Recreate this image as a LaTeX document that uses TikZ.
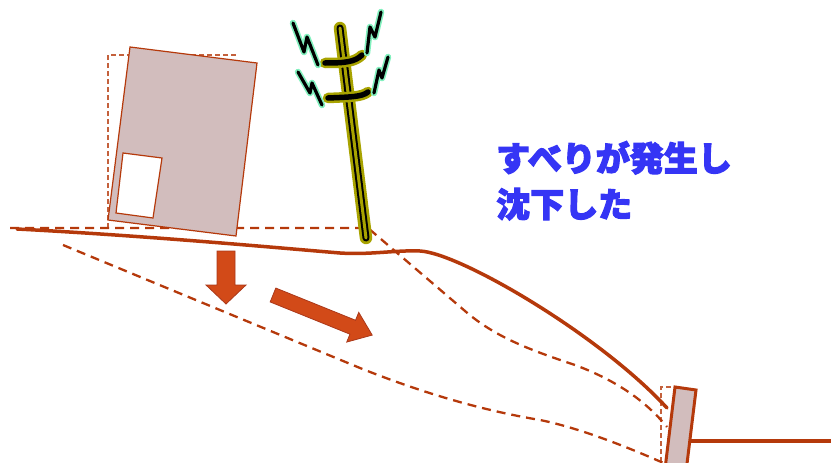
\documentclass[tikz,border=0pt]{standalone}
\usepackage{fontspec}
\newfontfamily\jpfont{Noto Sans CJK JP}[BoldFeatures={FakeBold=3.5}]
\definecolor{soil}{RGB}{181,57,11}
\definecolor{wallfill}{RGB}{210,189,189}
\definecolor{arrowfill}{RGB}{210,74,24}
\definecolor{arrowedge}{RGB}{170,56,26}
\definecolor{poleolive}{RGB}{168,163,0}
\definecolor{sparkglow}{RGB}{130,240,190}
\definecolor{msgblue}{RGB}{53,53,245}
\tikzset{
  slipline/.style={draw=soil, line width=2.3pt, dash pattern=on 9pt off 6pt},
  oldoutline/.style={draw=soil, opacity=0.8, line width=1.2pt, dash pattern=on 5pt off 3pt},
  groundline/.style={draw=soil, line width=3.5pt, line cap=round},
  movearrow/.style={fill=arrowfill, draw=arrowedge, line width=0.8pt, line join=miter},
  housebody/.style={fill=wallfill, draw=soil, line width=1.2pt},
  windowpane/.style={fill=white, draw=soil, line width=1.2pt},
  retainwall/.style={fill=wallfill, draw=soil, line width=3pt},
  polehalo/.style={draw=poleolive, line cap=round, line join=round},
  sparkhalo/.style={draw=sparkglow, line width=6.5pt, line cap=round, line join=round},
  sparkcore/.style={draw=black, line width=3.2pt, line cap=round, line join=round},
  message/.style={text=msgblue, font=\jpfont\bfseries\fontsize{34}{46}\selectfont, align=left, inner sep=0pt}
}
\begin{document}
\begin{tikzpicture}[x=1pt, y=-1pt]
\useasboundingbox (0,0) rectangle (831,463);

% former ground surface and the slip surface
\draw[slipline] (10,228) -- (368,228) -- (465,311)
  .. controls (495,337) and (530,350) .. (575,365)
  .. controls (615,380) and (645,400) .. (667,427);
\draw[slipline] (63,245) -- (360,368)
  .. controls (420,392) and (480,410) .. (540,420)
  .. controls (580,428) and (630,448) .. (668,465);

% present ground surface
\draw[groundline] (17,229) .. controls (150,236) and (280,248) .. (340,253)
  .. controls (370,255) and (395,250) .. (420,251)
  .. controls (460,253) and (600,335) .. (667,408);
\draw[groundline, line cap=butt] (688,441) -- (831,441);

% movement arrows
\draw[movearrow] (217,251) -- (235,251) -- (235,285) -- (246,285) -- (226,304)
  -- (206,285) -- (217,285) -- cycle;
\begin{scope}[shift={(273,295)}, rotate=-22]
  \draw[movearrow] (0,-7.5) -- (86,-7.5) -- (86,-16) -- (107,0) -- (86,16)
    -- (86,7.5) -- (0,7.5) -- cycle;
\end{scope}

% house, original position and tilted
\draw[oldoutline] (108,228) -- (108,55) -- (237,55);
\draw[housebody] (130,47) -- (257,63) -- (236,236) -- (108,220) -- cycle;
\draw[windowpane] (123,153) -- (162,158) -- (153,218) -- (116,213) -- cycle;

% telegraph pole
\draw[polehalo, line width=12.5pt] (340,28) -- (366,238);
\draw[black, line width=7pt, line cap=round] (340,28) -- (366,238);
\draw[poleolive, line width=3pt, line cap=round] (340,28) -- (366,238);
\foreach \arm in {{(325,63) .. controls (345,63) and (355,62) .. (362,55)},
                  {(328,98) .. controls (350,97) and (362,97) .. (368,92)}}{
  \draw[polehalo, line width=10.5pt] \arm;
  \draw[black, line width=5.5pt, line cap=round] \arm;
}

% sparks from the wires
\foreach \zig in {{(293,23) -- (304,52) -- (307,37) -- (318,65)},
                  {(298,72) -- (310,93) -- (312,83) -- (322,105)},
                  {(381,12) -- (375,37) -- (370,27) -- (367,53)},
                  {(388,57) -- (382,78) -- (379,70) -- (374,93)}}{
  \draw[sparkhalo] \zig;
  \draw[sparkcore] \zig;
}

% retaining wall, original outline and tilted
\draw[oldoutline] (661,470) -- (661,387) -- (675,387);
\draw[retainwall] (675,387) -- (696,390) -- (686,472) -- (665,469) -- cycle;

% caption
\node[message, anchor=north west] (msg) at (496,141) {すべりが発生し\\沈下した};
\end{tikzpicture}
\end{document}
